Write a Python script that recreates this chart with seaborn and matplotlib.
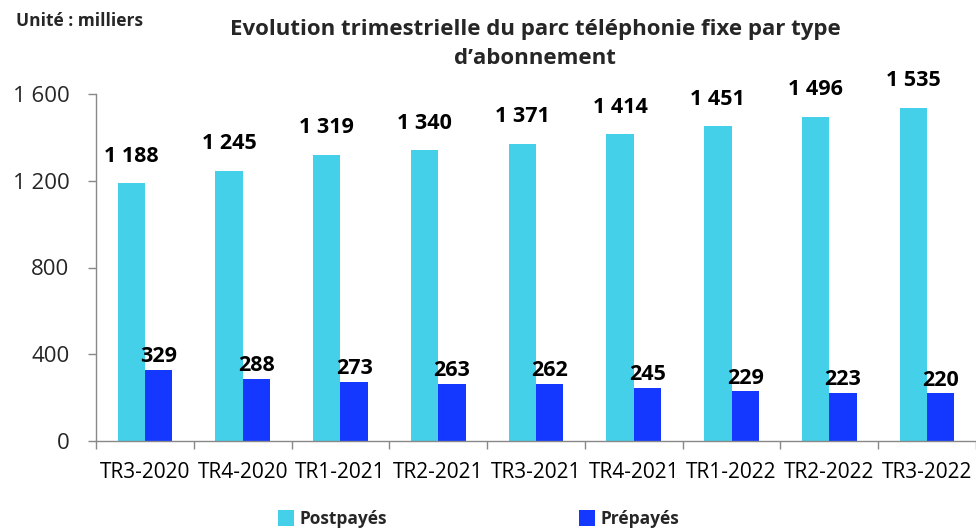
import matplotlib
matplotlib.use("Agg")
import matplotlib.pyplot as plt
import seaborn as sns
import pandas as pd
from matplotlib.patches import Patch
from matplotlib.ticker import FixedLocator

quarters = ["TR3-2020", "TR4-2020", "TR1-2021", "TR2-2021", "TR3-2021",
            "TR4-2021", "TR1-2022", "TR2-2022", "TR3-2022"]
postpayes = [1188, 1245, 1319, 1340, 1371, 1414, 1451, 1496, 1535]
prepayes = [329, 288, 273, 263, 262, 245, 229, 223, 220]
series_names = ["Postpayés", "Prépayés"]
colors = ["#45D0EA", "#1438FF"]
yticks = [0, 400, 800, 1200, 1600]

df = pd.DataFrame({
    "Trimestre": quarters * 2,
    "Valeur": postpayes + prepayes,
    "Type": [series_names[0]] * len(quarters) + [series_names[1]] * len(quarters),
})

sns.set_theme(style="white")
plt.rcParams["font.family"] = ["Open Sans", "DejaVu Sans"]

fig = plt.figure(figsize=(9.76, 5.29), dpi=100)
ax = fig.add_axes([96 / 976, 1 - 441 / 529, 880 / 976, (441 - 94) / 529])

sns.barplot(data=df, x="Trimestre", y="Valeur", hue="Type", order=quarters,
            hue_order=series_names, palette=colors, width=0.56, gap=0,
            saturation=1, legend=False, ax=ax, linewidth=0)

ax.set_ylim(0, 1600)
ax.set_xlim(-0.5, len(quarters) - 0.5)
ax.set_yticks(yticks)
ax.set_yticklabels([f"{v:,}".replace(",", " ") for v in yticks], fontsize=16)
ax.set_xticks(range(len(quarters)))
ax.set_xticklabels(quarters, fontsize=15)
ax.xaxis.set_minor_locator(FixedLocator([i - 0.5 for i in range(len(quarters) + 1)]))
ax.tick_params(axis="x", which="major", length=0, pad=15, colors="black")
ax.tick_params(axis="x", which="minor", length=6, width=1, color="#888888", direction="out", bottom=True)
ax.tick_params(axis="y", which="major", length=6, width=1, color="#888888", direction="out", left=True, pad=13)
ax.set_xlabel("")
ax.set_ylabel("")
for s in ["top", "right"]:
    ax.spines[s].set_visible(False)
for s in ["left", "bottom"]:
    ax.spines[s].set_color("#888888")
    ax.spines[s].set_linewidth(1)

pads = [12, 2]
for cont, pad in zip(ax.containers, pads):
    ax.bar_label(cont, labels=[f"{int(v):,}".replace(",", " ") for v in cont.datavalues],
                 padding=pad, fontsize=15.5, fontweight="bold", color="black", clip_on=False)

fig.text(16 / 976, 1 - 21 / 529, "Unité : milliers", fontsize=12.5, fontweight="bold", va="center", ha="left")
fig.text(535 / 976, 1 - 43.5 / 529, "Evolution trimestrielle du parc téléphonie fixe par type\nd\u2019abonnement",
         fontsize=16, fontweight="bold", ha="center", va="center", linespacing=1.5)

for name, col, xpos in zip(series_names, colors, [278, 579]):
    fig.legend(handles=[Patch(facecolor=col, edgecolor="none", label=name)],
               loc="center left", bbox_to_anchor=(xpos / 976, 1 - 519 / 529),
               frameon=False, borderpad=0, borderaxespad=0, handlelength=0.9,
               handleheight=1.0, handletextpad=0.35,
               prop={"weight": "bold", "size": 12.5})

fig.savefig("out.png", dpi=100)
